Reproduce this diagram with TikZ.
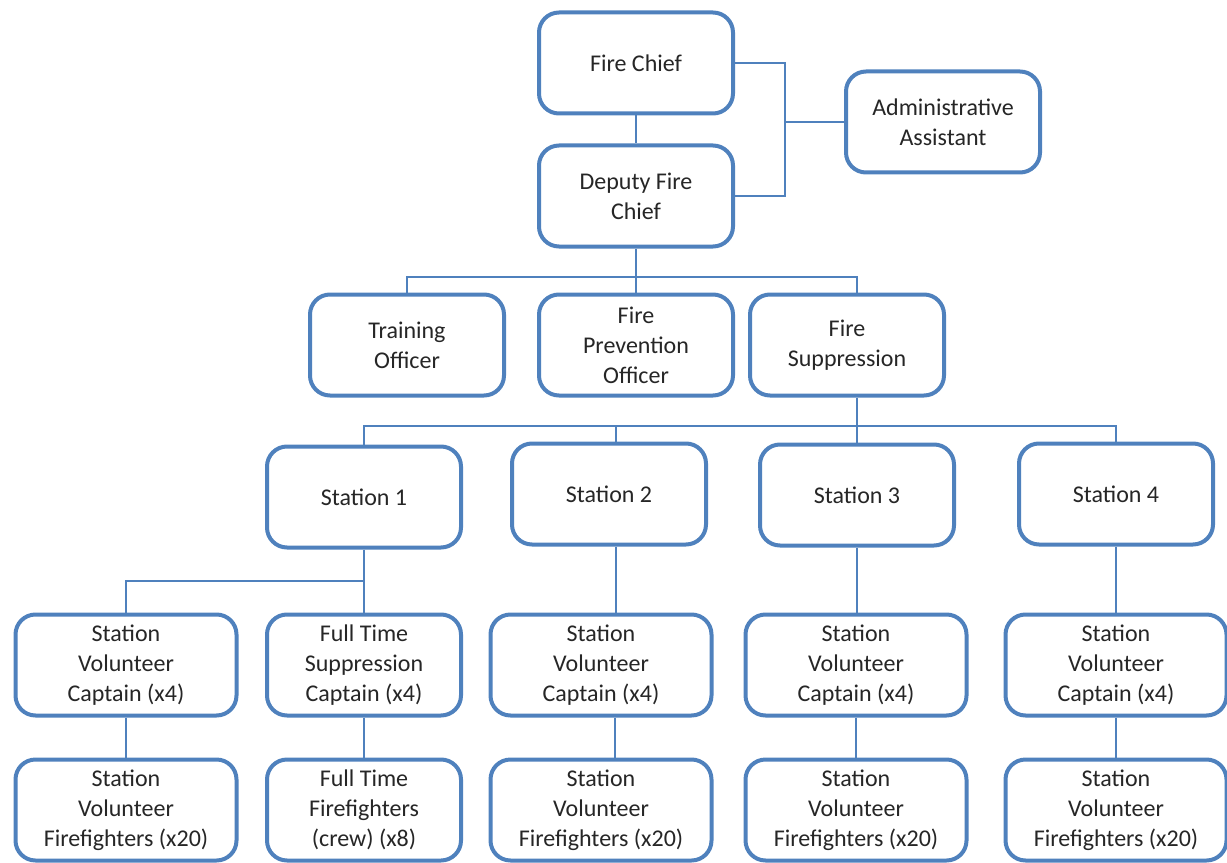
\documentclass[tikz,border=0pt]{standalone}
\usepackage{fontspec}
\setmainfont{Carlito}
\usepackage{tikz}
\definecolor{orgblue}{RGB}{79,129,189}

\begin{document}
\begin{tikzpicture}[x=0.75pt,y=-0.75pt,
    post/.style={draw=orgblue, line width=3pt, rounded corners=15pt, fill=white,
      minimum width=145.5pt, minimum height=75.75pt, align=center, inner sep=2pt,
      text=black!85, font=\fontsize{18}{22.5}\selectfont},
    widepost/.style={post, minimum width=165.75pt},
    link/.style={draw=orgblue, line width=2pt}]
    \useasboundingbox (0,0) rectangle (1227,863);
    % command staff
    \node[post] (chief) at (636,63) {Fire Chief};
    \node[post] (deputy) at (636,196) {Deputy Fire\\Chief};
    \node[post] (admin) at (943,122) {Administrative\\Assistant};
    \node[post] (training) at (407,345) {Training\\Officer};
    \node[post] (prevention) at (636,345) {Fire\\Prevention\\Officer};
    \node[post] (suppression) at (847,345) {Fire\\Suppression};
    % stations
    \node[post] (st1) at (364,497) {Station 1};
    \node[post] (st2) at (609,494) {Station 2};
    \node[post] (st3) at (857,495) {Station 3};
    \node[post] (st4) at (1116,494) {Station 4};
    % captains
    \node[widepost] (vcap1) at (126,665) {Station\\Volunteer\\Captain (x4)};
    \node[post] (fcap) at (364,665) {Full Time\\Suppression\\Captain (x4)};
    \node[widepost] (cap2) at (601,665) {Station\\Volunteer\\Captain (x4)};
    \node[widepost] (cap3) at (856,665) {Station\\Volunteer\\Captain (x4)};
    \node[widepost] (cap4) at (1116,665) {Station\\Volunteer\\Captain (x4)};
    % firefighters
    \node[widepost] (vff1) at (126,810) {Station\\Volunteer\\Firefighters (x20)};
    \node[post] (fff) at (364,810) {Full Time\\Firefighters\\(crew) (x8)};
    \node[widepost] (ff2) at (601,810) {Station\\Volunteer\\Firefighters (x20)};
    \node[widepost] (ff3) at (856,810) {Station\\Volunteer\\Firefighters (x20)};
    \node[widepost] (ff4) at (1116,810) {Station\\Volunteer\\Firefighters (x20)};

    \coordinate (adminjoin) at (785,122);
    \coordinate (bus1) at (636,277);
    \coordinate (bus2) at (857,426);
    \coordinate (bus3) at (363,581);

    \draw[link] (chief) -- (deputy);
    \draw[link] (chief.east) -| (adminjoin) |- (deputy.east);
    \draw[link] (adminjoin) -- (admin.west);
    \draw[link] (deputy) -- (bus1);
    \draw[link] (training.north) |- (bus1) -| ([xshift=7.5pt]suppression.north);
    \draw[link] (bus1) -- (prevention.north);
    \draw[link] ([xshift=7.5pt]suppression.south) -- (bus2);
    \draw[link] (st1.north) |- (bus2) -| (st4.north);
    \draw[link] (bus2) -- (st3.north);
    \draw[link] ([xshift=5.25pt]st2.north |- bus2) -- ([xshift=5.25pt]st2.north);
    \draw[link] (st1.south) -- (fcap.north);
    \draw[link] (bus3) -| (vcap1.north);
    \draw[link] ([xshift=5.25pt]st2.south) -- ([xshift=5.25pt]st2.south |- cap2.north);
    \draw[link] (st3.south) -- (st3.south |- cap3.north);
    \draw[link] (st4) -- (cap4);
    \draw[link] (vcap1) -- (vff1);
    \draw[link] (fcap) -- (fff);
    \draw[link] ([xshift=10.5pt]cap2.south) -- ([xshift=10.5pt]ff2.north);
    \draw[link] (cap3) -- (ff3);
    \draw[link] (cap4) -- (ff4);
  \end{tikzpicture}
\end{document}
